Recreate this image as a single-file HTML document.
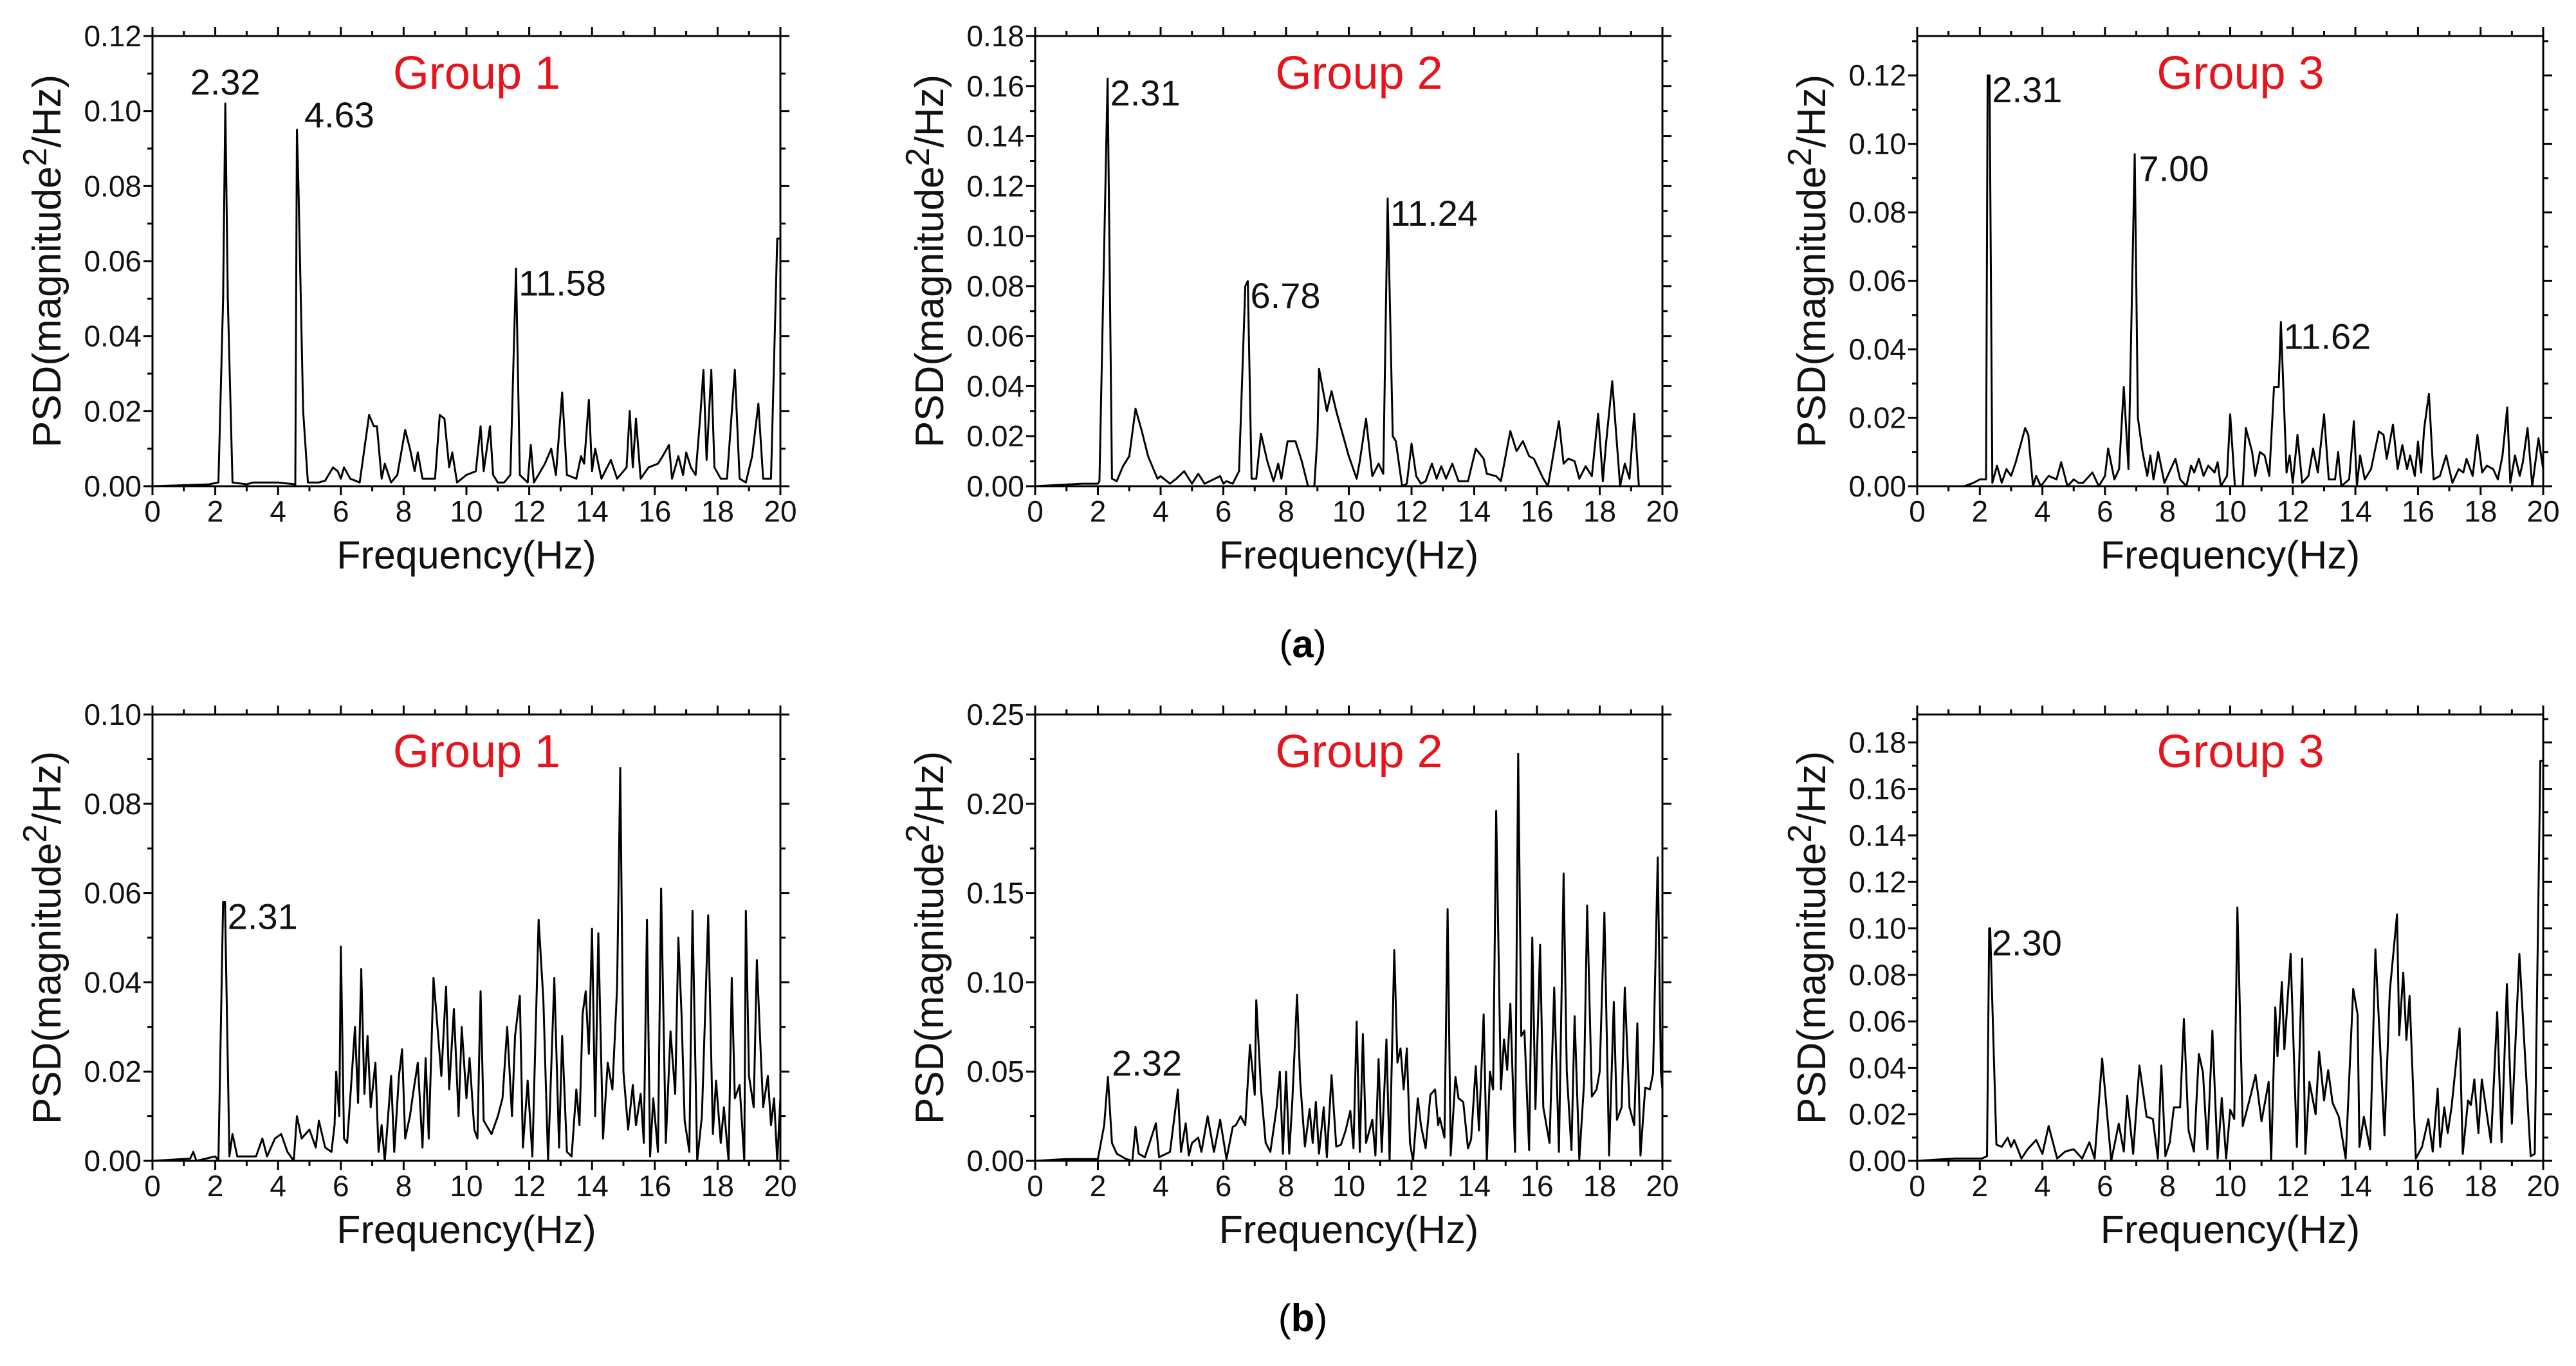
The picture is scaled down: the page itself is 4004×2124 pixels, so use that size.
<!DOCTYPE html>
<html><head><meta charset="utf-8"><style>
html,body{margin:0;padding:0;background:#fff}
svg{display:block}
text{font-family:"Liberation Sans",Arial,sans-serif}
</style></head><body>
<svg id="fig" xmlns="http://www.w3.org/2000/svg" width="4004" height="2124" viewBox="0 0 4004 2124">
<rect width="4004" height="2124" fill="#fff"/>
<text x="2025" y="1022" font-size="60" text-anchor="middle" font-family="Liberation Serif,serif">(<tspan font-weight="bold">a</tspan>)</text>
<text x="2025" y="2070" font-size="60" text-anchor="middle" font-family="Liberation Serif,serif">(<tspan font-weight="bold">b</tspan>)</text>
</svg>
<script>
// ---- data: frequency (Hz) and PSD values per panel ----
const a1F=[0,1.8,2.1,2.25,2.32,2.4,2.55,3,3.2,4,4.55,4.6,4.65,4.8,4.95,5.3,5.5,5.75,5.9,6.0,6.1,6.3,6.6,6.9,7.05,7.15,7.3,7.4,7.6,7.8,8.05,8.2,8.35,8.45,8.6,9.0,9.15,9.3,9.45,9.55,9.7,10,10.3,10.45,10.55,10.75,10.85,11.0,11.2,11.4,11.58,11.7,11.95,12.05,12.15,12.5,12.7,12.85,13.05,13.2,13.5,13.65,13.75,13.9,14.0,14.1,14.3,14.6,14.8,15.1,15.2,15.3,15.4,15.55,15.8,16.1,16.25,16.45,16.55,16.75,16.9,17.0,17.15,17.3,17.45,17.55,17.65,17.8,17.9,18.1,18.3,18.55,18.7,18.9,19.1,19.3,19.45,19.7,19.9,20];
const a1V=[0,0.0005,0.001,0.05,0.102,0.05,0.001,0.0005,0.001,0.001,0.0005,0.095,0.08,0.02,0.001,0.001,0.0015,0.005,0.004,0.002,0.005,0.002,0.001,0.019,0.016,0.016,0.002,0.006,0.001,0.003,0.015,0.01,0.004,0.009,0.002,0.002,0.019,0.018,0.005,0.009,0.001,0.003,0.004,0.016,0.004,0.016,0.003,0.001,0.001,0.003,0.058,0.003,0.001,0.011,0.001,0.006,0.01,0.003,0.025,0.003,0.002,0.008,0.006,0.023,0.004,0.01,0.002,0.007,0.002,0.005,0.02,0.005,0.018,0.002,0.005,0.006,0.008,0.011,0.002,0.008,0.003,0.009,0.005,0.003,0.019,0.031,0.007,0.031,0.005,0.002,0.002,0.031,0.002,0.001,0.008,0.022,0.002,0.002,0.066,0.066];
const a2F=[0,1.5,2.0,2.05,2.31,2.45,2.6,2.8,3.0,3.2,3.4,3.6,3.9,4.0,4.3,4.5,4.75,5.0,5.2,5.4,5.9,6.0,6.1,6.3,6.5,6.7,6.78,6.9,7.05,7.2,7.4,7.6,7.75,7.85,8.05,8.3,8.5,8.7,8.9,9.0,9.05,9.3,9.45,9.6,10.0,10.25,10.35,10.55,10.75,10.95,11.1,11.24,11.4,11.5,11.7,11.85,12.0,12.15,12.3,12.45,12.65,12.8,12.95,13.1,13.3,13.5,13.8,14.05,14.3,14.4,14.7,14.85,15.15,15.35,15.55,15.75,15.9,16.2,16.35,16.7,16.85,17.0,17.2,17.35,17.55,17.75,17.95,18.1,18.2,18.4,18.65,18.8,18.95,19.1,19.25];
const a2V=[0,0.001,0.001,0.002,0.163,0.003,0.002,0.008,0.012,0.031,0.022,0.012,0.003,0.004,0.001,0.003,0.006,0.001,0.005,0.001,0.004,0.001,0.002,0.001,0.006,0.08,0.082,0.003,0.003,0.021,0.01,0.002,0.009,0.003,0.018,0.018,0.01,0,0,0.02,0.047,0.03,0.038,0.03,0.012,0.003,0.01,0.027,0.004,0.009,0.005,0.115,0.02,0.018,0,0.001,0.017,0.004,0.001,0.002,0.009,0.003,0.008,0.003,0.009,0.002,0.002,0.015,0.011,0.005,0.004,0.002,0.022,0.014,0.018,0.012,0.011,0.003,0,0.026,0.009,0.011,0.01,0.003,0.008,0.004,0.029,0.002,0.017,0.042,0,0.009,0.003,0.029,0];
const a3F=[0,1.5,1.8,2.0,2.2,2.25,2.31,2.4,2.55,2.7,2.85,3.0,3.15,3.3,3.45,3.55,3.7,3.8,3.95,4.2,4.45,4.6,4.8,5.0,5.15,5.3,5.6,5.8,6.0,6.1,6.3,6.45,6.6,6.75,6.95,7.05,7.2,7.35,7.45,7.55,7.7,7.9,8.25,8.4,8.6,8.75,8.85,9.0,9.15,9.3,9.5,9.6,9.7,9.9,10.0,10.15,10.4,10.5,10.7,10.8,10.95,11.1,11.25,11.4,11.55,11.62,11.8,11.9,12.0,12.15,12.3,12.5,12.65,12.8,13.0,13.15,13.35,13.45,13.55,13.8,13.95,14.05,14.15,14.3,14.5,14.75,14.9,15.0,15.2,15.35,15.5,15.65,15.75,15.9,16.0,16.1,16.2,16.35,16.5,16.7,16.9,17.1,17.3,17.45,17.55,17.75,17.9,18.05,18.2,18.4,18.55,18.7,18.85,18.95,19.1,19.25,19.35,19.5,19.65,19.85,20];
const a3V=[0,0,0.001,0.002,0.002,0.12,0.12,0.001,0.006,0.001,0.005,0.003,0.007,0.012,0.017,0.015,0,0.003,0,0.003,0.002,0.007,0,0.002,0.001,0.001,0.004,0,0.003,0.011,0.002,0.005,0.029,0.005,0.097,0.02,0.01,0.003,0.009,0.002,0.01,0.001,0.008,0.002,0,0.006,0.004,0.008,0.003,0.006,0.004,0.007,0,0.003,0.021,0,0,0.017,0.01,0.003,0.01,0.009,0.003,0.029,0.029,0.048,0.004,0.009,0.001,0.015,0.001,0.003,0.011,0.004,0.021,0.002,0.002,0.01,0,0.002,0.019,0,0.009,0.002,0.005,0.016,0.015,0.008,0.018,0.005,0.012,0.005,0.009,0.003,0.013,0.004,0.017,0.027,0.002,0.003,0.009,0.001,0.005,0.004,0.008,0.003,0.015,0.004,0.006,0.005,0.002,0.009,0.023,0.001,0.009,0.003,0.007,0.017,0,0.014,0.005];
const b1F=[0,1.2,1.3,1.4,2.0,2.1,2.25,2.31,2.45,2.55,2.7,3.0,3.3,3.5,3.65,3.9,4.1,4.3,4.5,4.6,4.75,5.0,5.2,5.3,5.5,5.7,5.8,5.85,5.95,6.0,6.1,6.2,6.3,6.45,6.55,6.65,6.75,6.85,6.95,7.1,7.2,7.3,7.4,7.6,7.7,7.85,7.95,8.05,8.2,8.3,8.45,8.6,8.7,8.8,8.95,9.1,9.2,9.35,9.45,9.6,9.75,9.85,10.0,10.1,10.25,10.35,10.45,10.55,10.8,11.0,11.15,11.3,11.45,11.55,11.7,11.8,11.95,12.1,12.2,12.3,12.45,12.6,12.8,12.95,13.05,13.2,13.35,13.5,13.6,13.7,13.8,13.9,14.0,14.1,14.2,14.35,14.5,14.65,14.8,14.9,15.0,15.15,15.3,15.4,15.55,15.65,15.75,15.85,15.95,16.1,16.2,16.35,16.5,16.65,16.75,16.85,16.95,17.1,17.2,17.35,17.5,17.7,17.85,17.95,18.1,18.2,18.35,18.45,18.55,18.7,18.85,18.9,19.0,19.15,19.25,19.35,19.45,19.6,19.7,19.8,19.9,20];
const b1V=[0,0.0005,0.002,0,0.001,0,0.058,0.058,0.001,0.006,0.001,0.001,0.001,0.005,0.001,0.005,0.006,0.002,0,0.01,0.005,0.007,0.003,0.009,0.003,0.002,0.008,0.02,0.01,0.048,0.005,0.004,0.014,0.03,0.013,0.043,0.015,0.028,0.012,0.022,0.002,0.008,0,0.019,0.002,0.019,0.025,0.005,0.01,0.015,0.022,0.003,0.023,0.005,0.041,0.028,0.019,0.039,0.016,0.034,0.01,0.03,0.014,0.023,0.007,0.005,0.038,0.009,0.006,0.01,0.014,0.03,0.01,0.028,0.037,0.003,0.018,0.001,0.028,0.054,0.036,0,0.041,0.003,0.028,0.002,0.001,0.016,0.008,0.033,0.038,0.024,0.052,0.01,0.051,0.005,0.022,0.016,0.039,0.088,0.02,0.007,0.017,0.008,0.015,0.004,0.054,0.001,0.014,0.002,0.061,0.004,0.029,0.015,0.05,0.033,0.009,0.002,0.056,0,0.01,0.055,0.006,0.018,0.004,0.012,0,0.041,0.014,0.017,0,0.056,0.019,0.012,0.045,0.028,0.012,0.019,0.008,0.014,0,0.014];
const b2F=[0,1,2.0,2.2,2.32,2.45,2.6,2.9,3.1,3.2,3.3,3.5,3.85,3.95,4.3,4.55,4.65,4.8,4.9,5.0,5.2,5.3,5.5,5.7,5.9,6.1,6.3,6.4,6.55,6.7,6.85,7.0,7.05,7.2,7.35,7.5,7.7,7.8,7.9,8.0,8.1,8.2,8.35,8.45,8.6,8.75,8.85,8.95,9.05,9.2,9.3,9.45,9.6,9.75,9.9,10.05,10.15,10.25,10.35,10.45,10.55,10.75,10.85,10.95,11.05,11.2,11.3,11.45,11.55,11.65,11.75,11.85,11.95,12.05,12.2,12.3,12.45,12.6,12.75,12.85,12.9,13.05,13.15,13.25,13.4,13.5,13.65,13.8,13.9,14.05,14.15,14.3,14.4,14.5,14.6,14.7,14.85,14.95,15.05,15.15,15.3,15.4,15.5,15.6,15.75,15.85,15.95,16.1,16.2,16.4,16.55,16.7,16.85,16.95,17.1,17.2,17.35,17.5,17.6,17.75,17.9,18.0,18.15,18.3,18.45,18.55,18.7,18.8,18.95,19.1,19.2,19.3,19.45,19.6,19.7,19.85,19.95,20];
const b2V=[0,0.001,0.001,0.02,0.047,0.01,0.004,0.001,0,0.019,0.004,0.002,0.021,0.002,0.005,0.04,0.005,0.021,0.003,0.01,0.013,0.005,0.025,0.005,0.023,0.001,0.019,0.02,0.025,0.02,0.065,0.037,0.09,0.04,0.01,0.005,0.03,0.05,0.004,0.05,0.004,0.034,0.093,0.045,0.008,0.029,0.01,0.033,0.004,0.03,0.002,0.048,0.008,0.009,0.017,0.028,0.007,0.078,0.005,0.071,0.01,0.023,0.003,0.057,0.005,0.068,0,0.118,0.055,0.063,0.04,0.063,0.01,0,0.035,0.02,0.007,0.037,0.04,0.02,0.024,0.013,0.141,0.003,0.047,0.035,0.033,0.007,0.012,0.053,0.017,0.082,0,0.05,0.04,0.196,0.04,0.068,0.051,0.088,0.005,0.228,0.07,0.073,0.006,0.125,0.029,0.121,0.03,0.01,0.097,0.005,0.161,0.05,0.006,0.081,0.001,0.043,0.143,0.036,0.04,0.05,0.139,0.003,0.089,0.023,0.03,0.097,0.03,0.02,0.077,0.003,0.041,0.04,0.049,0.17,0.05,0.04];
const b3F=[0,1.2,2.07,2.23,2.3,2.33,2.53,2.7,2.89,3.0,3.1,3.33,3.53,3.8,4.0,4.2,4.47,4.73,5.0,5.27,5.5,5.67,5.91,6.2,6.44,6.6,6.71,6.9,7.1,7.33,7.53,7.69,7.8,7.93,8.07,8.2,8.4,8.52,8.67,8.84,9.0,9.13,9.27,9.43,9.6,9.73,9.87,10.0,10.13,10.23,10.4,10.67,10.81,11.0,11.23,11.31,11.44,11.51,11.65,11.73,11.93,12.13,12.3,12.4,12.53,12.73,12.84,13.0,13.13,13.27,13.47,13.69,13.93,14.07,14.13,14.27,14.47,14.64,14.93,15.1,15.33,15.4,15.53,15.63,15.73,15.93,16.13,16.33,16.47,16.63,16.71,16.84,16.95,17.07,17.33,17.43,17.6,17.69,17.8,17.93,18.04,18.33,18.53,18.67,18.84,19.0,19.24,19.4,19.6,19.73,19.91,20];
const b3V=[0,0.001,0.001,0.002,0.1,0.1,0.007,0.006,0.01,0.006,0.009,0.001,0.005,0.009,0.003,0.015,0.001,0.004,0.005,0.001,0.008,0.001,0.044,0,0.016,0.004,0.028,0.003,0.041,0.019,0.018,0.001,0.041,0.002,0.008,0.023,0.023,0.061,0.013,0.004,0.046,0.038,0.005,0.056,0.001,0.027,0.001,0.022,0.018,0.109,0.015,0.029,0.037,0.017,0.034,0,0.066,0.045,0.077,0.048,0.089,0.006,0.087,0.003,0.034,0.02,0.047,0.026,0.039,0.025,0.019,0.001,0.074,0.063,0.006,0.019,0.005,0.091,0.011,0.073,0.106,0.054,0.081,0.052,0.071,0.001,0.006,0.018,0.004,0.031,0.006,0.023,0.012,0.023,0.057,0.003,0.026,0.024,0.035,0.012,0.035,0.008,0.064,0.008,0.076,0.016,0.089,0.05,0.002,0.003,0.172,0.172];

// annotations
const a1Ann=[2.32,4.63,11.58], a1AnnV=[0.102,0.095,0.058], a1AnnT=["2.32","4.63","11.58"];
const a2Ann=[2.31,6.78,11.24], a2AnnV=[0.163,0.082,0.115], a2AnnT=["2.31","6.78","11.24"];
const a3Ann=[2.31,7.00,11.62], a3AnnV=[0.12,0.097,0.048], a3AnnT=["2.31","7.00","11.62"];
const b1Ann=[2.31], b1AnnV=[0.058], b1AnnT=["2.31"];
const b2Ann=[2.32], b2AnnV=[0.047], b2AnnT=["2.32"];
const b3Ann=[2.30], b3AnnV=[0.1], b3AnnT=["2.30"];

const xTicks=[0,2,4,6,8,10,12,14,16,18,20];
const a1Y=["0.00","0.02","0.04","0.06","0.08","0.10","0.12"];
const a2Y=["0.00","0.02","0.04","0.06","0.08","0.10","0.12","0.14","0.16","0.18"];
const a3Y=["0.00","0.02","0.04","0.06","0.08","0.10","0.12"];
const b1Y=["0.00","0.02","0.04","0.06","0.08","0.10"];
const b2Y=["0.00","0.05","0.10","0.15","0.20","0.25"];
const b3Y=["0.00","0.02","0.04","0.06","0.08","0.10","0.12","0.14","0.16","0.18"];

const NS="http://www.w3.org/2000/svg";
const svg=document.getElementById('fig');
function mk(tag,attrs,parent){const e=document.createElementNS(NS,tag);for(const k in attrs)e.setAttribute(k,attrs[k]);(parent||svg).appendChild(e);return e;}

const panels=[
 {id:'a1',x0:237,x1:1213,y0:56,y1:756,ymax:0.12,ystep:0.02,yt:a1Y,F:a1F,V:a1V,aF:a1Ann,aV:a1AnnV,aT:a1AnnT,g:"Group 1",modes:["above","right","top"]},
 {id:'a2',x0:1609,x1:2584,y0:56,y1:756,ymax:0.18,ystep:0.02,yt:a2Y,F:a2F,V:a2V,aF:a2Ann,aV:a2AnnV,aT:a2AnnT,g:"Group 2",modes:["top","top","top"]},
 {id:'a3',x0:2980,x1:3953,y0:56,y1:756,ymax:0.1315,ystep:0.02,yt:a3Y,F:a3F,V:a3V,aF:a3Ann,aV:a3AnnV,aT:a3AnnT,g:"Group 3",modes:["top","top","top"]},
 {id:'b1',x0:237,x1:1213,y0:1111,y1:1805,ymax:0.10,ystep:0.02,yt:b1Y,F:b1F,V:b1V,aF:b1Ann,aV:b1AnnV,aT:b1AnnT,g:"Group 1",modes:["top"]},
 {id:'b2',x0:1609,x1:2584,y0:1111,y1:1805,ymax:0.25,ystep:0.05,yt:b2Y,F:b2F,V:b2V,aF:b2Ann,aV:b2AnnV,aT:b2AnnT,g:"Group 2",modes:["above-right"]},
 {id:'b3',x0:2980,x1:3953,y0:1111,y1:1805,ymax:0.192,ystep:0.02,yt:b3Y,F:b3F,V:b3V,aF:b3Ann,aV:b3AnnV,aT:b3AnnT,g:"Group 3",modes:["top"]}
];

panels.forEach(p=>{
  const g=mk('g',{});
  
  
  const X=f=>p.x0+(f/20)*(p.x1-p.x0);
  const Y=v=>p.y1-(v/p.ymax)*(p.y1-p.y0);
  for(let f=0;f<=20;f+=1){
    const L=(f%2===0)?14:8;
    mk('line',{x1:X(f),x2:X(f),y1:p.y1,y2:p.y1+L,stroke:'#000','stroke-width':3},g);
    mk('line',{x1:X(f),x2:X(f),y1:p.y0,y2:p.y0-L,stroke:'#000','stroke-width':3},g);
  }
  xTicks.forEach(f=>{
    const t=mk('text',{x:X(f),y:p.y1+55,'font-size':46,'text-anchor':'middle',fill:'#111'},g);
    
    
    t.textContent=f;
  });
  const half=p.ystep/2;
  for(let k=0;k*half<=p.ymax+1e-9;k++){
    const v=k*half,L=(k%2===0)?14:8;
    mk('line',{x1:p.x0,x2:p.x0-L,y1:Y(v),y2:Y(v),stroke:'#000','stroke-width':3},g);
    mk('line',{x1:p.x1,x2:p.x1+L,y1:Y(v),y2:Y(v),stroke:'#000','stroke-width':3},g);
  }
  p.yt.forEach((lab,i)=>{
    const t=mk('text',{x:p.x0-17,y:Y(i*p.ystep)+16,'font-size':46,'text-anchor':'end',fill:'#111'},g);
    
    
    t.textContent=lab;
  });
  const fr=mk('rect',{x:p.x0,y:p.y0,width:p.x1-p.x0,height:p.y1-p.y0,fill:'none',stroke:'#000','stroke-width':3},g);
  
  
  let d='';
  p.F.forEach((f,i)=>{d+=(i?'L':'M')+X(f).toFixed(1)+' '+Y(p.V[i]).toFixed(1)+' ';});
  const ln=mk('path',{d:d,fill:'none',stroke:'#000','stroke-width':3,'stroke-linejoin':'round'},g);
  
  
  const gt=mk('text',{x:(p.x0+p.x1)/2+16,y:p.y0+82,'font-size':72,'text-anchor':'middle',fill:'#e8141c'},g);
  
  
  gt.textContent=p.g;
  p.aF.forEach((f,i)=>{
    const m=p.modes[i];let x=X(f),y=Y(p.aV[i]),anchor='start';
    if(m==='above'){anchor='middle';y-=14;}
    else if(m==='right'){x+=10;y-=4;}
    else if(m==='above-right'){x+=6;y-=2;}
    else {x+=4;y+=42;}
    const t=mk('text',{x:x,y:y,'font-size':56,'text-anchor':anchor,fill:'#111'},g);
    
    
    t.textContent=p.aT[i];
  });
  const xl=mk('text',{x:(p.x0+p.x1)/2,y:p.y1+128,'font-size':61,'text-anchor':'middle',fill:'#111'},g);
  
  
  xl.textContent='Frequency(Hz)';
  const cy=(p.y0+p.y1)/2, cx=p.x0-165;
  const yl=mk('text',{x:cx,y:cy,'font-size':62,'text-anchor':'middle',fill:'#111',transform:`rotate(-90 ${cx} ${cy})`,dy:22},g);
  
  
  yl.appendChild(document.createTextNode('PSD(magnitude'));
  const sup=mk('tspan',{'font-size':52,dy:-22},yl);
  sup.textContent='2';
  const rest=mk('tspan',{dy:22},yl);
  rest.textContent='/Hz)';
});
</script>
</body></html>
